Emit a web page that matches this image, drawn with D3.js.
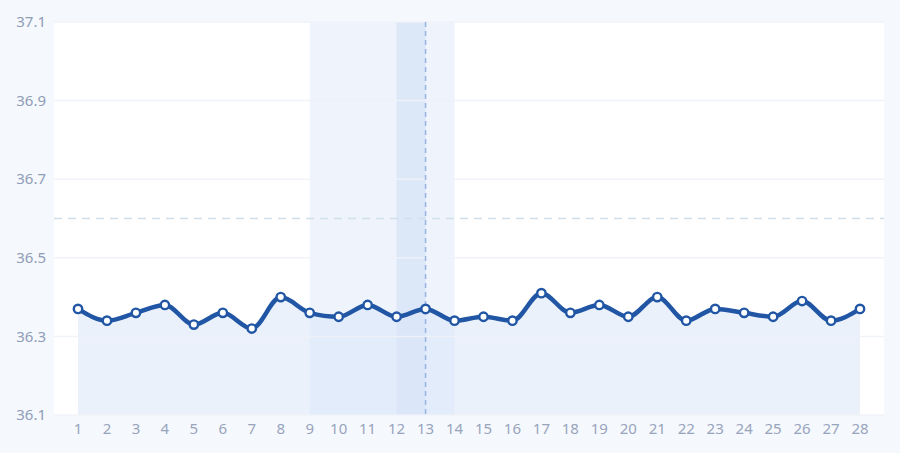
<!DOCTYPE html>
<html>
<head>
<meta charset="utf-8">
<script src="https://cdn.jsdelivr.net/npm/d3@7"></script>
<style>
  html, body { margin: 0; padding: 0; background: #f5f8fc; }
  svg { display: block; font-family: "Noto Sans", "DejaVu Sans", sans-serif; }
</style>
</head>
<body>
<div id="chart"></div>
<script>
var days = d3.range(1, 29);
var temps = [36.37, 36.34, 36.36, 36.38, 36.33, 36.36, 36.32, 36.40, 36.36, 36.35,
  36.38, 36.35, 36.37, 36.34, 36.35, 36.34, 36.41, 36.36, 36.38, 36.35,
  36.40, 36.34, 36.37, 36.36, 36.35, 36.39, 36.34, 36.37];
var yTicks = [36.1, 36.3, 36.5, 36.7, 36.9, 37.1];
var refValue = 36.6;
var periodBand = [9, 14];
var ovulBand = [12, 13];
var markerDay = 13;

var width = 900, height = 453;
var margin = { top: 22, right: 16, bottom: 38, left: 54 };

var svg = d3.select('#chart').append('svg')
  .attr('width', width)
  .attr('height', height);

svg.append('rect')
  .attr('width', width).attr('height', height)
  .attr('fill', '#f5f8fc');

var x = d3.scalePoint()
  .domain(days)
  .range([78, 860]);

var y = d3.scaleLinear()
  .domain([36.1, 37.1])
  .range([height - margin.bottom, margin.top]);

// plot background
svg.append('rect')
  .attr('x', margin.left)
  .attr('y', margin.top)
  .attr('width', width - margin.left - margin.right)
  .attr('height', y(36.1) - margin.top)
  .attr('fill', '#ffffff');

// shaded bands
svg.append('rect')
  .attr('x', x(periodBand[0]))
  .attr('y', margin.top)
  .attr('width', x(periodBand[1]) - x(periodBand[0]))
  .attr('height', y(36.1) - margin.top)
  .attr('fill', '#eef3fc');

svg.append('rect')
  .attr('x', x(ovulBand[0]))
  .attr('y', margin.top)
  .attr('width', x(ovulBand[1]) - x(ovulBand[0]))
  .attr('height', y(36.1) - margin.top)
  .attr('fill', '#dce7f8');

// area under line
var area = d3.area()
  .x(function (d, i) { return x(days[i]); })
  .y0(y(36.1))
  .y1(function (d) { return y(d); })
  .curve(d3.curveMonotoneX);

svg.append('path')
  .datum(temps)
  .attr('d', area)
  .attr('fill', '#dbe6f7')
  .attr('fill-opacity', 0.55);

// gridlines
svg.append('g')
  .selectAll('line')
  .data(yTicks)
  .enter().append('line')
  .attr('x1', margin.left)
  .attr('x2', width - margin.right)
  .attr('y1', function (d) { return y(d); })
  .attr('y2', function (d) { return y(d); })
  .attr('stroke', '#eef2f7')
  .attr('stroke-width', 1.5)
  .attr('stroke-opacity', 0.9);

// reference line
svg.append('line')
  .attr('x1', margin.left)
  .attr('x2', width - margin.right)
  .attr('y1', y(refValue))
  .attr('y2', y(refValue))
  .attr('stroke', '#d0e0ea')
  .attr('stroke-width', 1.5)
  .attr('stroke-dasharray', '8,6');

// marker line
svg.append('line')
  .attr('x1', x(markerDay))
  .attr('x2', x(markerDay))
  .attr('y1', margin.top)
  .attr('y2', y(36.1))
  .attr('stroke', '#98b4e2')
  .attr('stroke-width', 1.5)
  .attr('stroke-dasharray', '5,4');

// line
var line = d3.line()
  .x(function (d, i) { return x(days[i]); })
  .y(function (d) { return y(d); })
  .curve(d3.curveMonotoneX);

svg.append('path')
  .datum(temps)
  .attr('d', line)
  .attr('fill', 'none')
  .attr('stroke', '#2156a5')
  .attr('stroke-width', 4.5)
  .attr('stroke-linejoin', 'round');

svg.append('g')
  .selectAll('circle')
  .data(temps)
  .enter().append('circle')
  .attr('cx', function (d, i) { return x(days[i]); })
  .attr('cy', function (d) { return y(d); })
  .attr('r', 4.2)
  .attr('fill', '#ffffff')
  .attr('stroke', '#2156a5')
  .attr('stroke-width', 2.4);

// y labels
svg.append('g')
  .selectAll('text')
  .data(yTicks)
  .enter().append('text')
  .attr('x', 46)
  .attr('y', function (d) { return y(d); })
  .attr('dy', '0.35em')
  .attr('text-anchor', 'end')
  .style('font-size', '15px')
  .attr('fill', '#8f9db8')
  .text(function (d) { return d3.format('.1f')(d); });

// x labels
svg.append('g')
  .selectAll('text')
  .data(days)
  .enter().append('text')
  .attr('x', function (d) { return x(d); })
  .attr('y', 429)
  .attr('dy', '0.35em')
  .attr('text-anchor', 'middle')
  .style('font-size', '15px')
  .attr('fill', '#98a4bc')
  .text(function (d) { return d; });
</script>
</body>
</html>
